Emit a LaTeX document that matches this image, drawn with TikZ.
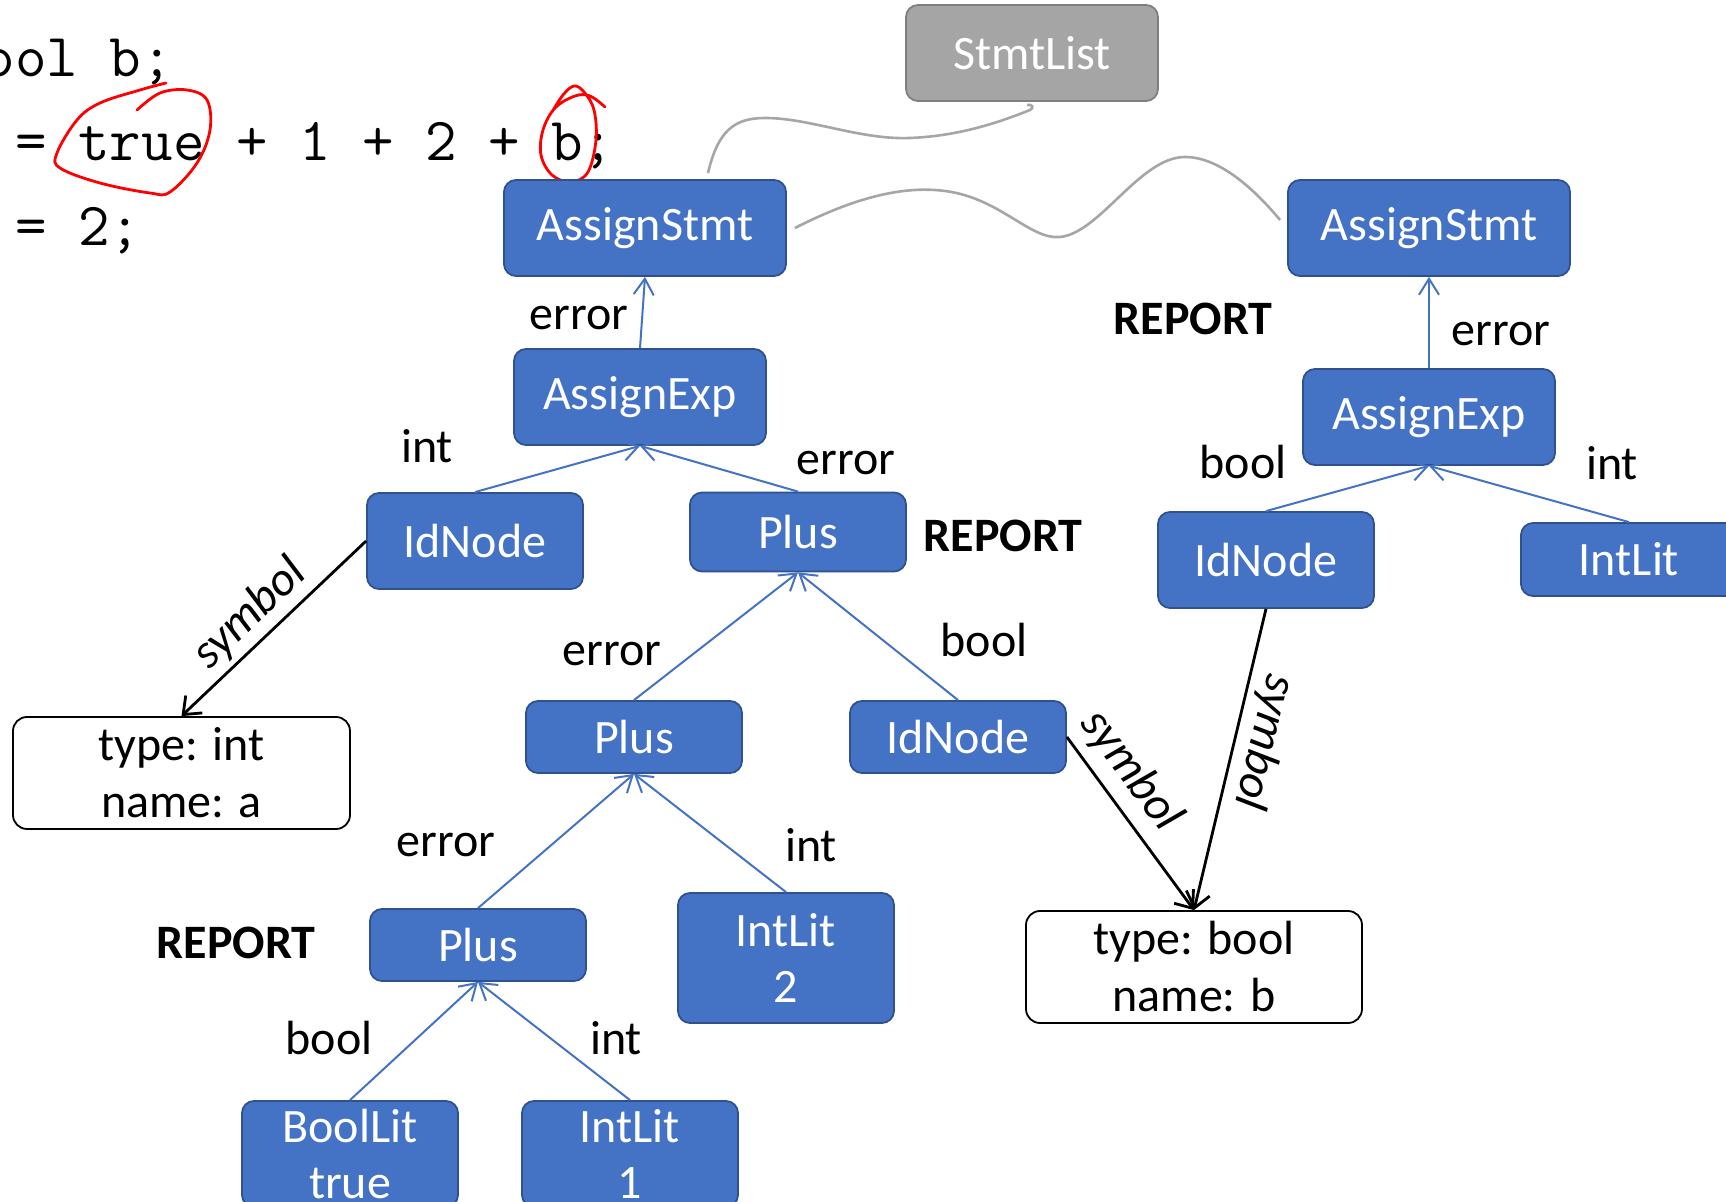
\documentclass[tikz,border=0pt]{standalone}
\usepackage{fontspec}
\setmainfont{Carlito}
\usetikzlibrary{arrows.meta,calc}
\definecolor{nodeblue}{HTML}{4472C4}
\definecolor{nodeborder}{HTML}{2F528F}
\definecolor{stmtgray}{HTML}{A5A5A5}
\definecolor{stmtborder}{HTML}{7F7F7F}
\definecolor{wavegray}{HTML}{A6A6A6}
\tikzset{
 ast/.style={draw=nodeborder, line width=0.9pt, fill=nodeblue, rounded corners=6pt, text=white, align=center, inner sep=0pt, font=\fontsize{24}{28}\selectfont},
 stmtbox/.style={ast, fill=stmtgray, draw=stmtborder},
 symbox/.style={draw=black, line width=0.9pt, fill=white, rounded corners=7pt, align=center, inner sep=0pt, font=\fontsize{24}{28.5}\selectfont},
 lbl/.style={inner sep=0pt, font=\fontsize{24}{28}\selectfont},
 rpt/.style={inner sep=0pt, font=\fontsize{24}{28}\selectfont\bfseries},
 symlbl/.style={inner sep=0pt, font=\fontsize{24}{28}\selectfont\itshape},
 treeedge/.style={draw=nodeblue, line width=1pt, -{Straight Barb[length=8pt,width=10pt]}},
 symedge/.style={draw=black, line width=1.4pt, -{Straight Barb[length=7.5pt,width=12pt]}},
 wave/.style={draw=wavegray, line width=1.3pt},
 circ/.style={draw=red, line width=1.4pt, line cap=round, line join=round},
 code/.style={inner sep=0pt, anchor=base west, font=\ttfamily\fontsize{30.6}{34}\selectfont}
}
\begin{document}
\begin{tikzpicture}[x=0.5pt,y=-0.5pt]
\useasboundingbox (0,0) rectangle (1726,1202);
\clip (0,0) rectangle (1726,1202);

% code
\node[code] (line1) at (-48,77) {bool b;};
\node[code] (line2) at (-48,161) {a = true + 1 + 2 + b;};
\node[code] (line3) at (-48,246) {a = 2;};

% red marks
\draw[circ] plot[smooth, tension=0.6] coordinates {(166,83) (140,90) (100,103) (77,120) (57,153) (60,168) (100,183) (150,193) (170,192) (197,163) (210,130) (207,100) (187,90) (160,93) (137,110)};
\draw[circ] plot[smooth, tension=0.6] coordinates {(605,107) (590,96) (575,96) (555,108) (543,130) (541,155) (552,175) (571,182) (588,172) (596,140) (594,110) (584,92) (574,86) (563,95) (552,112)};

% nodes
\node[stmtbox, minimum width=126pt, minimum height=48pt] (stmtlist) at (1032,53) {StmtList};
\node[ast, minimum width=141pt, minimum height=48pt] (as1) at (645,228) {AssignStmt};
\node[ast, minimum width=141pt, minimum height=48pt] (as2) at (1429,228) {AssignStmt};
\node[ast, minimum width=126pt, minimum height=48pt] (ae1) at (640,397) {AssignExp};
\node[ast, minimum width=126pt, minimum height=48pt] (ae2) at (1429,417) {AssignExp};
\node[ast, minimum width=108pt, minimum height=48pt] (id1) at (475,541) {IdNode};
\node[ast, minimum width=108pt, minimum height=39.5pt] (plus1) at (798,532) {Plus};
\node[ast, minimum width=108pt, minimum height=36pt] (plus2) at (634,737) {Plus};
\node[ast, minimum width=108pt, minimum height=36pt] (id2) at (958,737) {IdNode};
\node[ast, minimum width=108pt, minimum height=36pt] (plus3) at (478,945) {Plus};
\node[ast, minimum width=108pt, minimum height=65pt] (intlit2) at (786,958) {IntLit\\2};
\node[ast, minimum width=108pt, minimum height=53pt] (boollit) at (350,1154) {BoolLit\\true};
\node[ast, minimum width=108pt, minimum height=53pt] (intlit1) at (630,1154) {IntLit\\1};
\node[ast, minimum width=108pt, minimum height=48pt] (id3) at (1266,560) {IdNode};
\node[ast, minimum width=108pt, minimum height=36.5pt] (intlit3) at (1629,559.5) {IntLit};
\node[symbox, minimum width=168.5pt, minimum height=56pt] (tint) at (181.5,773) {type: int\\name: a};
\node[symbox, minimum width=168pt, minimum height=56pt] (tbool) at (1194,967) {type: bool\\name: b};

% tree edges
\draw[treeedge] (ae1.north) -- (as1.south);
\draw[treeedge] (id1.north) -- (ae1.south);
\draw[treeedge] (plus1.north) -- (ae1.south);
\draw[treeedge] (plus2.north) -- (plus1.south);
\draw[treeedge] (id2.north) -- (plus1.south);
\draw[treeedge] (plus3.north) -- (plus2.south);
\draw[treeedge] (intlit2.north) -- (plus2.south);
\draw[treeedge] (boollit.north) -- (plus3.south);
\draw[treeedge] (intlit1.north) -- (plus3.south);
\draw[treeedge] (ae2.north) -- (as2.south);
\draw[treeedge] (id3.north) -- (ae2.south);
\draw[treeedge] (intlit3.north) -- (ae2.south);

% symbol edges
\draw[symedge] (id1.west) -- (tint.north);
\draw[symedge] (id2.east) -- (tbool.north);
\draw[symedge] (id3.south) -- (tbool.north);
\node[symlbl, rotate=44] (sym1) at (250,614) {symbol};
\node[symlbl, rotate=-53] (sym2) at (1131,771) {symbol};
\node[symlbl, rotate=-104] (sym3) at (1264,742) {symbol};

% wavy lines
\draw[wave] ($(as1.north)+(63,-6)$) .. controls (718,130) and (735,118) .. (765,118)
  .. controls (810,118) and (860,140) .. (910,138)
  .. controls (960,136) and (1000,122) .. (1030,110)
  .. controls (1034,108) and (1033,104) .. ($(stmtlist.south)+(-5,3)$);
\draw[wave] ($(as1.east)+(8,0)$) .. controls (850,200) and (900,185) .. (945,191)
  .. controls (1000,198) and (1030,240) .. (1060,237)
  .. controls (1100,233) and (1140,157) .. (1185,157)
  .. controls (1220,157) and (1255,190) .. ($(as2.west)+(-7,-8)$);

% labels
\node[lbl] (l1) at (579,318) {error};
\node[lbl] (l2) at (427,446) {int};
\node[lbl] (l3) at (846,463) {error};
\node[rpt] (r1) at (1003,536) {REPORT};
\node[lbl] (l4) at (612,654) {error};
\node[lbl] (l5) at (984,640) {bool};
\node[lbl] (l6) at (446,845) {error};
\node[lbl] (l7) at (811,845) {int};
\node[rpt] (r2) at (236,943) {REPORT};
\node[lbl] (l8) at (329,1038) {bool};
\node[lbl] (l9) at (616,1038) {int};
\node[rpt] (r3) at (1193,319) {REPORT};
\node[lbl] (l10) at (1501,334) {error};
\node[lbl] (l11) at (1243,462) {bool};
\node[lbl] (l12) at (1612,463) {int};
\end{tikzpicture}
\end{document}
